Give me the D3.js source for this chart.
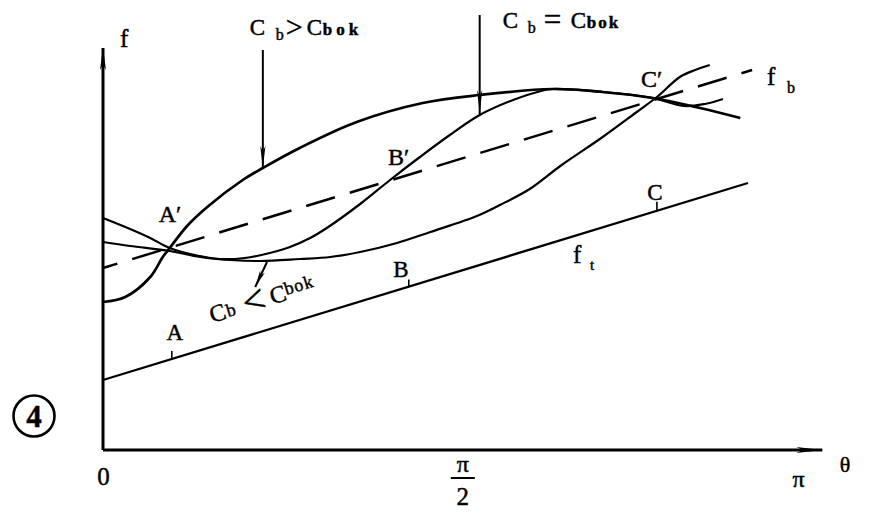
<!DOCTYPE html>
<html><head><meta charset="utf-8">
<script src="https://cdn.jsdelivr.net/npm/d3@7"></script>
<style>
body{margin:0;background:#fff}
text{font-family:"Liberation Serif","Times New Roman",serif;fill:#000;stroke:#000;stroke-width:0.45}
</style>
</head><body><svg id="c" width="873" height="520"></svg>
<script>
// θ expressed as a fraction of π, f in arbitrary units (schematic)
const xTickValues = [0, 0.517, 1];
const xTickLabels = ["0", "π/2", "π"];
const ftLine = [[0, 1.75], [0.928, 6.675]];
const fbLine = [[0, 4.55], [0.934, 9.5]];
// Cb > Cbok (passes A')
const curveGreater = [[0,3.7],[0.032,3.825],[0.068,4.325],[0.086,4.825],[0.096,5.05],[0.121,5.6],[0.150,6.075],[0.201,6.75],[0.230,7.05],[0.283,7.55],[0.365,8.2],[0.460,8.675],[0.542,8.875],[0.647,9.025],[0.719,8.95],[0.791,8.8],[0.859,8.55],[0.917,8.3]];
// Cb = Cbok (passes B')
const curveEqual = [[0,5.8],[0.039,5.525],[0.068,5.3],[0.096,5.05],[0.132,4.875],[0.168,4.775],[0.204,4.8],[0.240,4.925],[0.269,5.075],[0.298,5.3],[0.322,5.55],[0.370,6.15],[0.413,6.75],[0.456,7.325],[0.499,7.875],[0.542,8.375],[0.590,8.75],[0.629,8.97],[0.647,9.025],[0.719,8.95],[0.791,8.8],[0.835,8.6],[0.866,8.65],[0.892,8.775]];
// Cb < Cbok (passes C')
const curveLess = [[0,5.2],[0.039,5.1],[0.096,4.975],[0.140,4.825],[0.183,4.75],[0.226,4.725],[0.283,4.775],[0.327,4.825],[0.370,4.95],[0.423,5.175],[0.471,5.45],[0.538,5.85],[0.571,6.125],[0.614,6.525],[0.658,7.1],[0.719,7.825],[0.768,8.45],[0.797,8.825],[0.830,9.325],[0.852,9.5],[0.873,9.625]];
const ftMarkNames = ["A", "B", "C"];
const ftMarkTheta = [0.099, 0.44, 0.797];
const crossNames = ["A′", "B′", "C′"];
const crossTheta = [0.096, 0.413, 0.797];
const crossF = [5.05, 6.75, 8.825];
// annotation arrows: [from, to] in data units, head at "to"
const arrowGreater = [[0.230, 10.0], [0.230, 7.05]];
const arrowEqual = [[0.542, 10.875], [0.542, 8.4]];
const arrowLess = [[0.236, 4.7], [0.219, 4.075]];

const svg = d3.select("#c");
const x = d3.scaleLinear().domain([0, 1]).range([103, 798]);
const y = d3.scaleLinear().domain([0, 10]).range([450, 50]);

function head(x1, y1, x2, y2, len, hw) {
  const L = Math.hypot(x2 - x1, y2 - y1), ux = (x2 - x1) / L, uy = (y2 - y1) / L;
  const bx = x2 - ux * len, by = y2 - uy * len;
  svg.append("path").attr("d", `M${x2},${y2}L${bx - uy * hw},${by + ux * hw}L${bx + ux*len*0.25},${by + uy*len*0.25}L${bx + uy * hw},${by - ux * hw}Z`).attr("fill", "#000");
}

// axes
svg.append("line").attr("x1", x(0)).attr("y1", y(0)).attr("x2", x(1.035)).attr("y2", y(0)).attr("stroke", "#000").attr("stroke-width", 3);
head(x(0), y(0), x(1.035), y(0), 26, 3);
svg.append("line").attr("x1", x(0)).attr("y1", y(0)).attr("x2", x(0)).attr("y2", y(10.05)).attr("stroke", "#000").attr("stroke-width", 3);
head(x(0), y(0), x(0), y(10.05), 22, 3);

const xAxis = d3.axisBottom(x).tickValues(xTickValues).tickSize(0).tickFormat((d, i) => xTickLabels[i]);
const gx = svg.append("g").attr("transform", `translate(0,${y(0)})`).call(xAxis);
gx.attr("font-family", null).attr("font-size", null);
gx.select(".domain").remove();
gx.selectAll(".tick text").each(function(d, i) {
  const t = d3.select(this);
  t.attr("fill", null).attr("dy", null);
  if (i === 0) { t.attr("y", 35).style("font-size", "25px"); }
  else if (i === 2) { t.attr("y", 37).style("font-size", "24px"); }
  else {
    t.text("").attr("y", 22).style("font-size", "24px");
    t.append("tspan").attr("x", 0).attr("y", 22).text("π");
    t.append("tspan").attr("x", 0).attr("y", 55).style("font-size", "25px").text("2");
    d3.select(this.parentNode).append("line").attr("x1", -12).attr("x2", 12).attr("y1", 28).attr("y2", 28).attr("stroke", "#000").attr("stroke-width", 2);
  }
});
svg.append("text").attr("x", 845).attr("y", 472).attr("text-anchor", "middle").style("font-size", "22px").text("θ");
svg.append("text").attr("x", 120).attr("y", 47).style("font-size", "25px").text("f");

const line = d3.line().x(d => x(d[0])).y(d => y(d[1]));
const curve = d3.line().x(d => x(d[0])).y(d => y(d[1])).curve(d3.curveCatmullRom.alpha(0.5));

svg.append("path").attr("d", line(ftLine)).attr("fill", "none").attr("stroke", "#000").attr("stroke-width", 2.3);
svg.append("path").attr("d", line(fbLine)).attr("fill", "none").attr("stroke", "#000").attr("stroke-width", 2.5).attr("stroke-dasharray", "30,15.5").attr("stroke-dashoffset", 15);
svg.append("path").attr("d", curve(curveLess)).attr("fill", "none").attr("stroke", "#000").attr("stroke-width", 2.2);
svg.append("path").attr("d", curve(curveEqual)).attr("fill", "none").attr("stroke", "#000").attr("stroke-width", 2.2);
svg.append("path").attr("d", curve(curveGreater)).attr("fill", "none").attr("stroke", "#000").attr("stroke-width", 2.7);

// tick marks on f_t and labels
const ftAt = t => ftLine[0][1] + (ftLine[1][1] - ftLine[0][1]) * t / ftLine[1][0];
const markLayout = [{dx: 3, dy: -19, tick: 8}, {dx: -8, dy: -10, tick: 7}, {dx: -2, dy: -11, tick: 9}];
ftMarkTheta.forEach((t, i) => {
  const px = x(t), py = y(ftAt(t));
  svg.append("line").attr("x1", px).attr("x2", px).attr("y1", py).attr("y2", py - markLayout[i].tick).attr("stroke", "#000").attr("stroke-width", 1.6);
  svg.append("text").attr("x", px + markLayout[i].dx).attr("y", py + markLayout[i].dy).attr("text-anchor", "middle").style("font-size", "23px").text(ftMarkNames[i]);
});
// crossing labels
const crossLayout = [{dx: -11, dy: -26}, {dx: -2, dy: -15}, {dx: -16, dy: -10}];
crossTheta.forEach((t, i) => {
  svg.append("text").attr("x", x(t) + crossLayout[i].dx).attr("y", y(crossF[i]) + crossLayout[i].dy).style("font-size", "24px").text(crossNames[i]);
});

// annotation arrows
[[arrowGreater, 22, 2.6], [arrowEqual, 24, 2.6], [arrowLess, 17, 2.6]].forEach(([a, len, hw]) => {
  const x1 = x(a[0][0]), y1 = y(a[0][1]), x2 = x(a[1][0]), y2 = y(a[1][1]);
  svg.append("line").attr("x1", x1).attr("y1", y1).attr("x2", x2).attr("y2", y2).attr("stroke", "#000").attr("stroke-width", 2);
  head(x1, y1, x2, y2, len, hw);
});

// label made of parts placed at explicit offsets (x offset, baseline shift)
function rich(g, parts) {
  const t = g.append("text");
  parts.forEach(p => {
    const s = t.append("tspan").attr("x", p.x).attr("y", p.y || 0).text(p.t).style("font-size", p.s + "px");
    if (p.b) s.style("font-weight", "bold");
    if (p.ls) s.style("letter-spacing", p.ls + "px");
  });
  return t;
}
rich(svg.append("g").attr("transform", `translate(${x(arrowGreater[0][0]) - 13},35)`),
  [{t: "C", s: 23, x: 0}, {t: "b", s: 16, x: 26, y: 5}, {t: ">", s: 30, x: 36, y: 2}, {t: "C", s: 23, x: 57}, {t: "bok", s: 17, b: 1, x: 73, ls: 4}]);
rich(svg.append("g").attr("transform", `translate(${x(arrowEqual[0][0]) + 23},28)`),
  [{t: "C", s: 23, x: 0}, {t: "b", s: 16, x: 25, y: 5}, {t: "=", s: 31, x: 41, y: 2}, {t: "C", s: 23, x: 68}, {t: "bok", s: 17, b: 1, x: 84, ls: 2}]);
rich(svg.append("g").attr("transform", `translate(${x(arrowLess[1][0]) - 43},323) rotate(-17)`),
  [{t: "C", s: 24, x: 0}, {t: "b", s: 18, x: 17, y: -1}, {t: "<", s: 40, x: 35, y: 4}, {t: "C", s: 24, x: 63}, {t: "bok", s: 18, x: 79, y: -5, ls: 1}]);
rich(svg.append("g").attr("transform", `translate(${x(ftLine[1][0]) - 175},263)`),
  [{t: "f", s: 25, x: 0}, {t: "t", s: 15, x: 17, y: 7}]);
rich(svg.append("g").attr("transform", `translate(767,85)`),
  [{t: "f", s: 25, x: 0}, {t: "b", s: 16, x: 20, y: 8}]);

// circled figure number
svg.append("circle").attr("cx", 34).attr("cy", 416).attr("r", 20.5).attr("fill", "none").attr("stroke", "#000").attr("stroke-width", 2.6);
svg.append("text").attr("x", 34).attr("y", 427).attr("text-anchor", "middle").style("font-size", "31px").style("font-weight", "bold").text("4");
</script></body></html>
